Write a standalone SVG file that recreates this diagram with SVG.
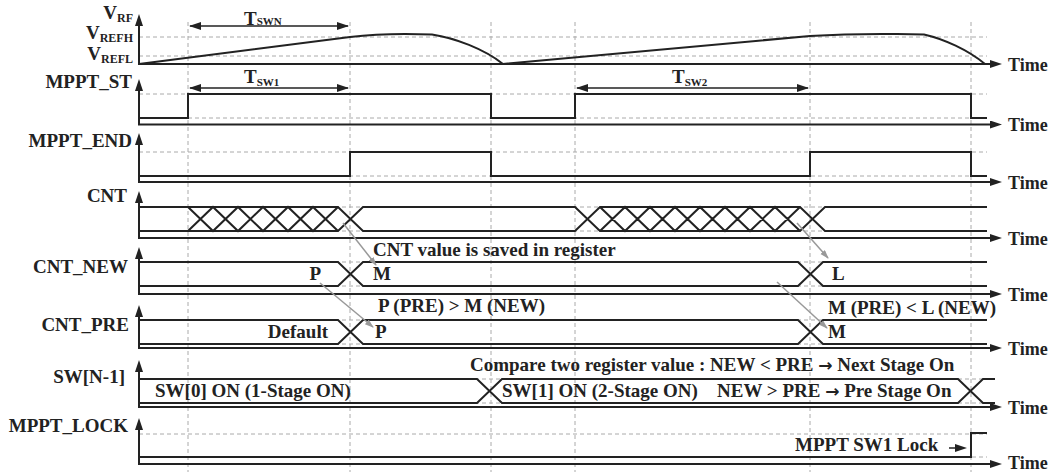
<svg xmlns="http://www.w3.org/2000/svg" width="1052" height="472" viewBox="0 0 1052 472">
<defs>
<style>
text{font-family:"Liberation Serif","Times New Roman",serif;font-weight:bold;font-size:19px;fill:#222}
.t{font-size:18px}
.arr{font-family:"DejaVu Sans",sans-serif;font-size:17px}
.ax{stroke:#222;stroke-width:2;fill:none}
.w{stroke:#222;stroke-width:2;fill:none;stroke-linejoin:miter}
.d{stroke:#aaa;stroke-width:1;stroke-dasharray:4 3;fill:none}
.dim{stroke:#222;stroke-width:1.5;fill:none}
.g{stroke:#999;stroke-width:1.5;fill:none}
</style>
<marker id="ah" markerUnits="userSpaceOnUse" markerWidth="14" markerHeight="10" refX="5" refY="4" orient="auto"><path d="M0,0 L12,4 L0,8 z" fill="#222"/></marker>
<marker id="dh" markerUnits="userSpaceOnUse" markerWidth="14" markerHeight="10" refX="11" refY="4" orient="auto-start-reverse"><path d="M0,0 L12,4 L0,8 z" fill="#222"/></marker>
<marker id="gh" markerUnits="userSpaceOnUse" markerWidth="10" markerHeight="8" refX="8" refY="3" orient="auto"><path d="M0,0 L9,3 L0,6 z" fill="#999"/></marker>
</defs>

<g id="grid">
<path class="d" d="M188,22V472M350,22V472M491,22V472M575,22V472M810,22V472M971,22V472"/>
<path class="d" d="M139,37H987M139,56H987M139,94H987M139,118H987M139,152H987M139,176H987M139,207H987M139,231H987M139,262H987M139,286H987M139,320H987M139,344H987M139,379H987M139,403H987M139,434H987M139,457H987"/>
</g>

<g id="vrf">
<path class="ax" d="M139,65V21" marker-end="url(#ah)"/>
<path class="ax" d="M138,64H995" marker-end="url(#ah)"/>
<text x="133" y="19" text-anchor="end">V<tspan font-size="12" dy="3">RF</tspan></text>
<text x="133" y="39" text-anchor="end">V<tspan font-size="12" dy="3">REFH</tspan></text>
<text x="133" y="60" text-anchor="end">V<tspan font-size="12" dy="3">REFL</tspan></text>
<path class="w" d="M139,64 L350,37 Q375,34 405,34 L432,34.5 C455,38 484,49 503,64 L810,36 Q850,33.5 897,34 L924,34.5 C944,39 968,50 985,64"/>
<path class="dim" d="M190,26H348" marker-start="url(#dh)" marker-end="url(#dh)"/>
<text x="244" y="25" font-size="16">T<tspan font-size="11" dy="0">SWN</tspan></text>
<text class="t" x="1008" y="71">Time</text>
</g>

<g id="mppt_st">
<path class="ax" d="M139,125V86" marker-end="url(#ah)"/>
<path class="ax" d="M138,124.5H995" marker-end="url(#ah)"/>
<text x="132" y="88" text-anchor="end">MPPT_ST</text>
<path class="w" d="M139,118H188V94H491V118H575V94H971V118H987"/>
<path class="dim" d="M190,88H348" marker-start="url(#dh)" marker-end="url(#dh)"/>
<text x="244" y="83" font-size="16">T<tspan font-size="11" dy="3">SW1</tspan></text>
<path class="dim" d="M577,88H808" marker-start="url(#dh)" marker-end="url(#dh)"/>
<text x="672" y="83" font-size="16">T<tspan font-size="11" dy="3">SW2</tspan></text>
<text class="t" x="1008" y="131">Time</text>
</g>

<g id="mppt_end">
<path class="ax" d="M139,183V140" marker-end="url(#ah)"/>
<path class="ax" d="M138,182H995" marker-end="url(#ah)"/>
<text x="132" y="147" text-anchor="end">MPPT_END</text>
<path class="w" d="M139,176H350V152H491V176H810V152H971V176H987"/>
<text class="t" x="1008" y="189">Time</text>
</g>

<g id="cnt">
<path class="ax" d="M139,239V198" marker-end="url(#ah)"/>
<path class="ax" d="M138,238H995" marker-end="url(#ah)"/>
<text x="127" y="202" text-anchor="end">CNT</text>
<path class="w" d="M139,207H338L363,231H575L600,207H800L825,231H987"/>
<path class="w" d="M139,231H338L363,207H575L600,231H800L825,207H987"/>
<path class="w" d="M188,231L213,207L238,231L263,207L288,231L313,207L338,231M188,207L213,231L238,207L263,231L288,207L313,231L338,207"/>
<path class="w" d="M600,231L625,207L650,231L675,207L700,231L725,207L750,231L775,207L800,231M600,207L625,231L650,207L675,231L700,207L725,231L750,207L775,231L800,207"/>
<text class="t" x="1008" y="245">Time</text>
</g>

<g id="cnt_new">
<path class="ax" d="M139,295V254" marker-end="url(#ah)"/>
<path class="ax" d="M138,294H995" marker-end="url(#ah)"/>
<text x="128" y="273" text-anchor="end">CNT_NEW</text>
<path class="w" d="M139,262H338L363,286H798L823,262H987"/>
<path class="w" d="M139,286H338L363,262H798L823,286H987"/>
<text x="321" y="280" text-anchor="end">P</text>
<text x="373" y="280">M</text>
<text x="832" y="280">L</text>
<text x="373" y="256">CNT value is saved in register</text>
<text class="t" x="1008" y="301">Time</text>
</g>

<g id="cnt_pre">
<path class="ax" d="M139,349V312" marker-end="url(#ah)"/>
<path class="ax" d="M138,348H995" marker-end="url(#ah)"/>
<text x="129" y="331" text-anchor="end">CNT_PRE</text>
<path class="w" d="M139,320H338L363,344H798L823,320H987"/>
<path class="w" d="M139,344H338L363,320H798L823,344H987"/>
<text x="328" y="338" text-anchor="end">Default</text>
<text x="375" y="338">P</text>
<text x="828" y="338">M</text>
<text x="378" y="312">P (PRE) &gt; M (NEW)</text>
<text x="828" y="314">M (PRE) &lt; L (NEW)</text>
<text class="t" x="1008" y="355">Time</text>
</g>

<g id="sw">
<path class="ax" d="M139,408V367" marker-end="url(#ah)"/>
<path class="ax" d="M138,407H995" marker-end="url(#ah)"/>
<text x="125" y="383" text-anchor="end">SW[N-1]</text>
<path class="w" d="M139,379H477L502,403H958L983,379H995"/>
<path class="w" d="M139,403H477L502,379H958L983,403H995"/>
<text x="155" y="397">SW[0] ON (1-Stage ON)</text>
<text x="502" y="397">SW[1] ON (2-Stage ON)</text>
<text x="717" y="397">NEW &gt; PRE <tspan class="arr">→</tspan> Pre Stage On</text>
<text x="470" y="371">Compare two register value : NEW &lt; PRE <tspan class="arr">→</tspan> Next Stage On</text>
<text class="t" x="1008" y="414">Time</text>
</g>

<g id="mppt_lock">
<path class="ax" d="M139,465V425" marker-end="url(#ah)"/>
<path class="ax" d="M138,464H995" marker-end="url(#ah)"/>
<text x="128" y="432" text-anchor="end">MPPT_LOCK</text>
<path class="w" d="M139,457H971V433H987"/>
<text x="795" y="451">MPPT SW1 Lock</text>
<path d="M949,448H960" stroke="#222" stroke-width="1.5" marker-end="url(#ah)"/>
<text class="t" x="1008" y="469">Time</text>
</g>

<g id="connectors">
<path class="g" d="M343,223L376,265" marker-end="url(#gh)"/>
<path class="g" d="M320,283L373,327" marker-end="url(#gh)"/>
<path class="g" d="M797,223L828,258" marker-end="url(#gh)"/>
<path class="g" d="M777,282L827,328" marker-end="url(#gh)"/>
</g>
</svg>
